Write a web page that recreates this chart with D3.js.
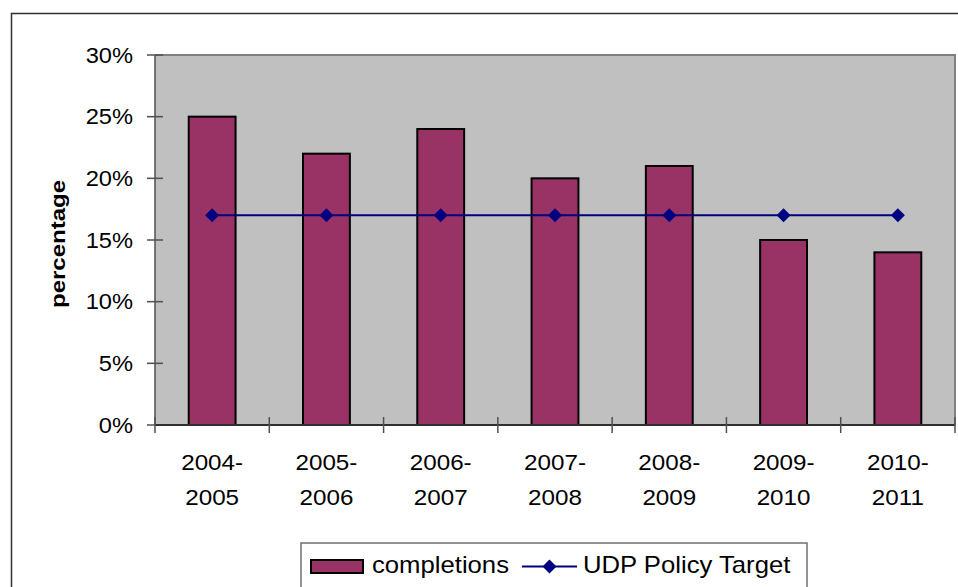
<!DOCTYPE html>
<html>
<head>
<meta charset="utf-8">
<script src="https://cdn.jsdelivr.net/npm/d3@7/dist/d3.min.js"></script>
<style>
  html, body { margin: 0; padding: 0; background: #fff; }
  svg { display: block; font-family: "Liberation Sans", Arial, sans-serif; }
</style>
</head>
<body>
<svg id="chart" width="958" height="587"></svg>
<script>
// Academic years (two-line labels) and values
const categories = ["2004-2005", "2005-2006", "2006-2007", "2007-2008", "2008-2009", "2009-2010", "2010-2011"];
const completions = [0.25, 0.22, 0.24, 0.20, 0.21, 0.15, 0.14];
const policyTarget = [0.17, 0.17, 0.17, 0.17, 0.17, 0.17, 0.17];
const yTicks = [0, 0.05, 0.10, 0.15, 0.20, 0.25, 0.30];
const seriesNames = ["completions", "UDP Policy Target"];

const svg = d3.select("#chart");
const W = 958, H = 587;
const plot = { left: 155, top: 55, right: 955, bottom: 425 };

const x = d3.scaleBand().domain(categories).range([plot.left, plot.right]).padding(0);
const y = d3.scaleLinear().domain([0, 0.30]).range([plot.bottom, plot.top]);
const barW = x.bandwidth() * 0.41;
const stretch = (sx) => `scale(${sx},1)`;

// Outer chart frame
svg.append("rect")
  .attr("x", 11.5).attr("y", 13.5).attr("width", W).attr("height", H)
  .attr("fill", "#fff").attr("stroke", "#303030").attr("stroke-width", 1.5);

// Plot background
svg.append("rect")
  .attr("x", plot.left).attr("y", plot.top)
  .attr("width", plot.right - plot.left).attr("height", plot.bottom - plot.top)
  .attr("fill", "#c0c0c0");
// Plot border top and right
svg.append("path")
  .attr("d", `M${plot.left},${plot.top}H${plot.right}V${plot.bottom}`)
  .attr("fill", "none").attr("stroke", "#808080").attr("stroke-width", 2);

// Bars
svg.append("g").selectAll("rect")
  .data(categories)
  .join("rect")
  .attr("x", (d) => x(d) + (x.bandwidth() - barW) / 2)
  .attr("y", (d, i) => y(completions[i]))
  .attr("width", barW)
  .attr("height", (d, i) => y(0) - y(completions[i]))
  .attr("fill", "#993366")
  .attr("stroke", "#000").attr("stroke-width", 2);

// Y axis line + crossing ticks + labels
const axisColor = "#505050";
svg.append("line")
  .attr("x1", plot.left).attr("x2", plot.left)
  .attr("y1", plot.top).attr("y2", plot.bottom)
  .attr("stroke", axisColor).attr("stroke-width", 1.5);
const yt = svg.append("g").selectAll("g").data(yTicks).join("g")
  .attr("transform", (d) => `translate(${plot.left},${y(d)})`);
yt.append("line").attr("x1", -8).attr("x2", 8)
  .attr("stroke", axisColor).attr("stroke-width", 1.5);
yt.append("g").attr("transform", `translate(-22,7.7) ${stretch(1.1)}`)
  .append("text")
  .attr("text-anchor", "end")
  .attr("font-size", 21.5).attr("fill", "#000")
  .text(d3.format(".0%"));

// X axis line + crossing ticks at category boundaries
svg.append("line")
  .attr("x1", plot.left).attr("x2", plot.right)
  .attr("y1", plot.bottom).attr("y2", plot.bottom)
  .attr("stroke", "#303030").attr("stroke-width", 2);
const boundaries = categories.map((c) => x(c)).concat([x.range()[1]]);
svg.append("g").selectAll("line").data(boundaries).join("line")
  .attr("x1", (d) => d).attr("x2", (d) => d)
  .attr("y1", plot.bottom - 8).attr("y2", plot.bottom + 8)
  .attr("stroke", axisColor).attr("stroke-width", 1.5);

// X labels, split over two lines
const xl = svg.append("g").selectAll("g").data(categories).join("g")
  .attr("transform", (d) => `translate(${x(d) + x.bandwidth() / 2},0)`);
xl.append("g").attr("transform", `translate(0,470) ${stretch(1.1)}`)
  .append("text").attr("text-anchor", "middle").attr("font-size", 22)
  .text((d) => d.split("-")[0] + "-");
xl.append("g").attr("transform", `translate(0,505) ${stretch(1.1)}`)
  .append("text").attr("text-anchor", "middle").attr("font-size", 22)
  .text((d) => d.split("-")[1]);

// Y axis title
svg.append("text")
  .attr("transform", "translate(65,244) rotate(-90)")
  .attr("text-anchor", "middle")
  .attr("font-size", 20).attr("font-weight", "bold")
  .attr("textLength", 128).attr("lengthAdjust", "spacingAndGlyphs")
  .text("percentage");

// Target line with diamond markers
const line = d3.line()
  .x((d, i) => x(categories[i]) + x.bandwidth() / 2)
  .y((d) => y(d));
svg.append("path").datum(policyTarget)
  .attr("d", line)
  .attr("fill", "none").attr("stroke", "#000080").attr("stroke-width", 2);
const diamond = (r) => `M0,${-r}L${r},0L0,${r}L${-r},0Z`;
svg.append("g").selectAll("path").data(policyTarget).join("path")
  .attr("transform", (d, i) => `translate(${x(categories[i]) + x.bandwidth() / 2},${y(d)})`)
  .attr("d", diamond(7))
  .attr("fill", "#000080");

// Legend
const lg = svg.append("g");
lg.append("rect")
  .attr("x", 301).attr("y", 543).attr("width", 506).attr("height", 60)
  .attr("fill", "#fff").attr("stroke", "#707070").attr("stroke-width", 1.5);
lg.append("rect")
  .attr("x", 311).attr("y", 560).attr("width", 52).attr("height", 13)
  .attr("fill", "#993366").attr("stroke", "#000").attr("stroke-width", 2);
lg.append("g").attr("transform", `translate(372,573) ${stretch(1.07)}`)
  .append("text").attr("font-size", 24).text(seriesNames[0]);
lg.append("line")
  .attr("x1", 522).attr("x2", 577).attr("y1", 566.5).attr("y2", 566.5)
  .attr("stroke", "#000080").attr("stroke-width", 2);
lg.append("path")
  .attr("transform", "translate(549.5,566.5)")
  .attr("d", diamond(7)).attr("fill", "#000080");
lg.append("g").attr("transform", `translate(583,573) ${stretch(1.07)}`)
  .append("text").attr("font-size", 24).text(seriesNames[1]);
</script>
</body>
</html>
